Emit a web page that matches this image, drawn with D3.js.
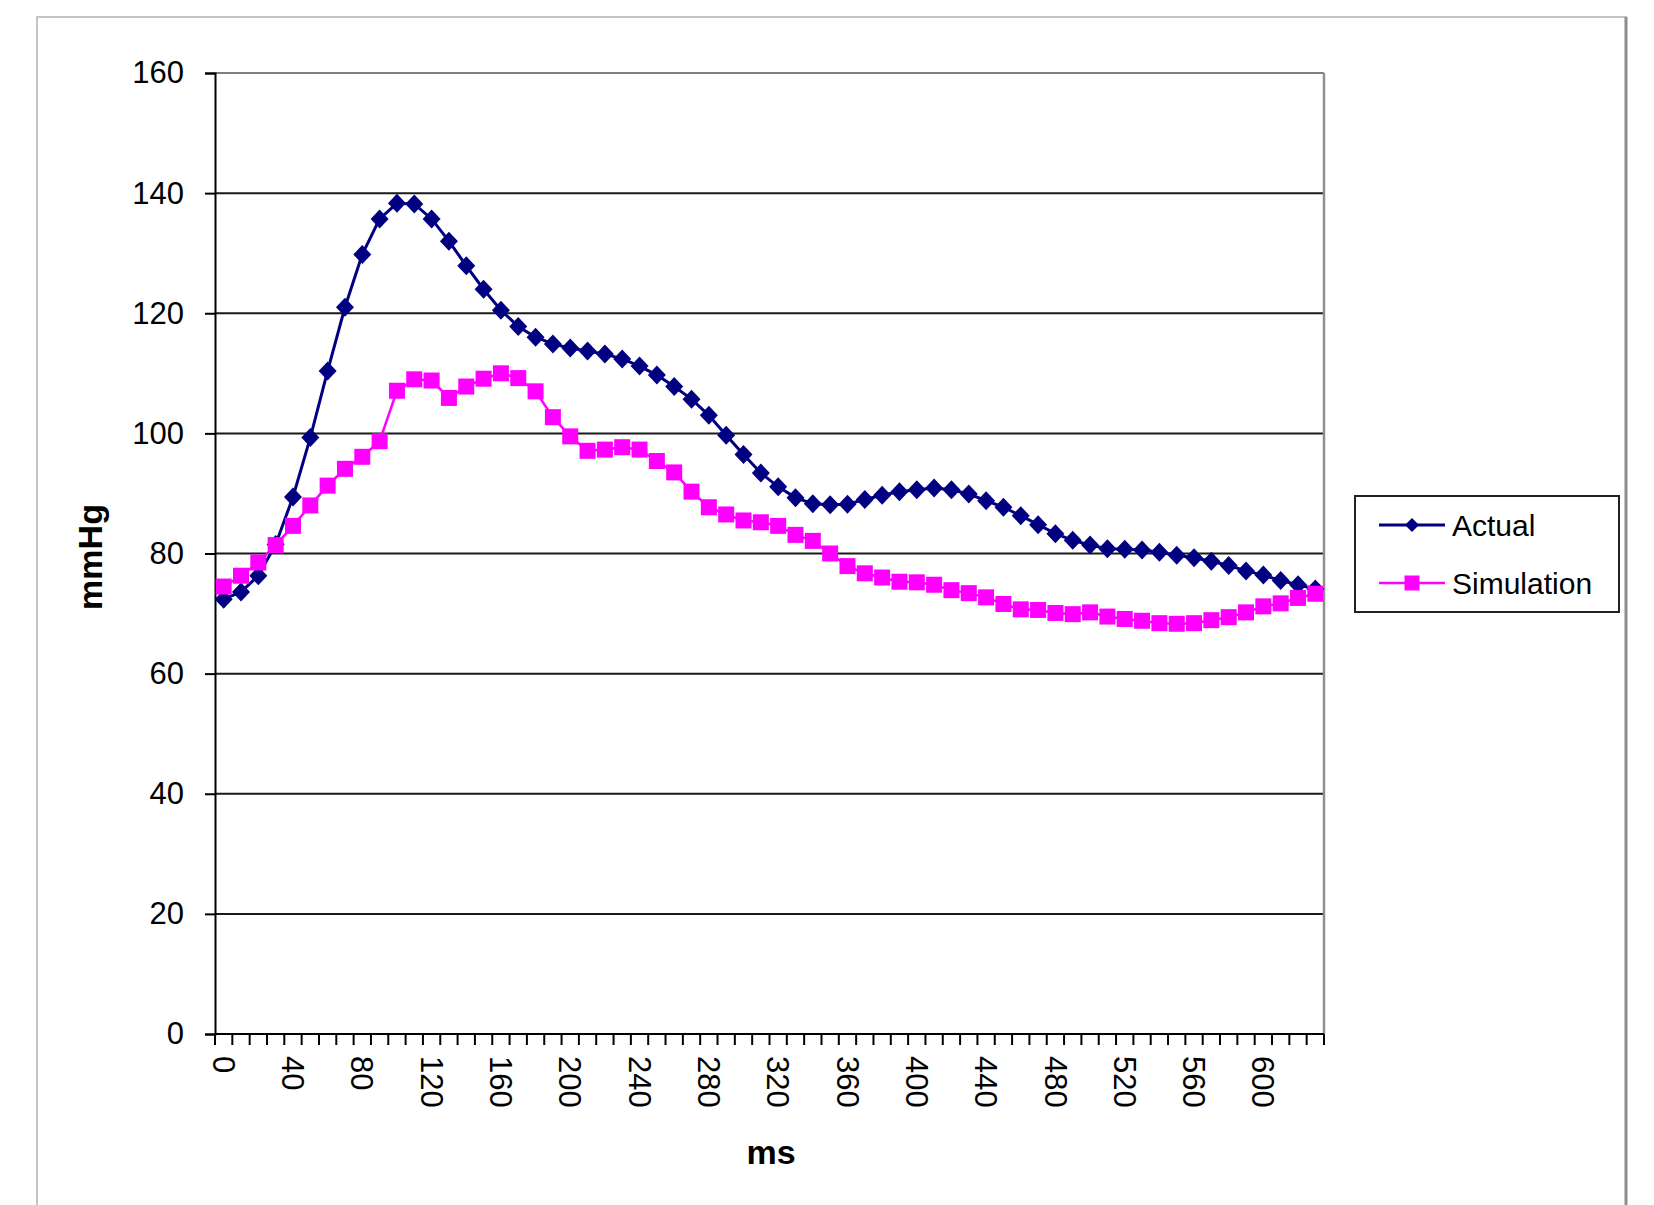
<!DOCTYPE html>
<html>
<head>
<meta charset="utf-8">
<script src="https://cdn.jsdelivr.net/npm/d3@7"></script>
<style>
  html, body { margin: 0; padding: 0; background: #fff; }
  svg { display: block; }
  text { font-family: "Liberation Sans", Arial, sans-serif; fill: #000; }
</style>
</head>
<body>
<svg id="chart" width="1654" height="1205"></svg>
<script>
// ---- data ----
const categories = [0,10,20,30,40,50,60,70,80,90,100,110,120,130,140,150,160,170,180,190,
  200,210,220,230,240,250,260,270,280,290,300,310,320,330,340,350,360,370,380,390,
  400,410,420,430,440,450,460,470,480,490,500,510,520,530,540,550,560,570,580,590,
  600,610,620,630];
const actual = [72.4,73.6,76.3,81.5,89.4,99.3,110.4,121.0,129.8,135.7,
  138.3,138.2,135.7,132.0,127.9,124.0,120.5,117.8,116.0,114.9,
  114.2,113.7,113.2,112.4,111.2,109.7,107.8,105.7,103.0,99.7,
  96.5,93.4,91.1,89.3,88.3,88.1,88.2,89.0,89.7,90.3,
  90.6,90.9,90.6,89.9,88.8,87.7,86.3,84.8,83.3,82.2,
  81.4,80.8,80.7,80.6,80.2,79.7,79.3,78.7,78.0,77.1,
  76.4,75.5,74.8,74.1];
const simulation = [74.5,76.3,78.5,81.4,84.6,88.0,91.3,94.1,96.1,98.7,
  107.1,109.0,108.8,105.9,107.8,109.1,110.0,109.2,107.0,102.7,
  99.5,97.1,97.3,97.7,97.3,95.4,93.5,90.3,87.7,86.5,
  85.5,85.2,84.6,83.1,82.1,80.0,77.9,76.7,76.0,75.3,
  75.2,74.8,73.9,73.4,72.7,71.6,70.7,70.6,70.1,69.9,
  70.2,69.5,69.1,68.8,68.4,68.3,68.4,68.9,69.4,70.2,
  71.2,71.7,72.6,73.3];
const yTicks = [0,20,40,60,80,100,120,140,160];
const xTickLabels = [0,40,80,120,160,200,240,280,320,360,400,440,480,520,560,600];
const seriesNames = ["Actual","Simulation"];
const seriesColors = ["#000080","#FF00FF"];

// ---- layout ----
const plot = {left: 215, right: 1324, top: 73, bottom: 1034};
const svg = d3.select("#chart");

const x = d3.scaleBand().domain(categories).range([plot.left, plot.right]).padding(0);
const xc = c => x(c) + x.bandwidth() / 2;
const y = d3.scaleLinear().domain([0, 160]).range([plot.bottom, plot.top]);

// outer chart frame
svg.append("rect").attr("x", 37).attr("y", 17).attr("width", 1589).attr("height", 1240)
  .attr("fill", "#fff").attr("stroke", "#c4c4c4").attr("stroke-width", 2);
svg.append("line").attr("x1", 1626).attr("x2", 1626).attr("y1", 17).attr("y2", 1205)
  .attr("stroke", "#8c8c8c").attr("stroke-width", 3);

// gridlines
svg.append("g").selectAll("line").data(yTicks.filter(t => t > 0 && t < 160)).join("line")
  .attr("x1", plot.left).attr("x2", plot.right)
  .attr("y1", d => y(d)).attr("y2", d => y(d))
  .attr("stroke", "#1a1a1a").attr("stroke-width", 2);

// plot border top/right (gray)
svg.append("line").attr("x1", plot.left).attr("x2", plot.right).attr("y1", y(160)).attr("y2", y(160))
  .attr("stroke", "#7f7f7f").attr("stroke-width", 2);
svg.append("line").attr("x1", plot.right).attr("x2", plot.right).attr("y1", plot.top).attr("y2", plot.bottom)
  .attr("stroke", "#8f8f8f").attr("stroke-width", 2.5);

// y axis
const yAxis = svg.append("g").attr("transform", `translate(${plot.left},0)`)
  .call(d3.axisLeft(y).tickValues(yTicks).tickSize(10).tickPadding(21).tickFormat(d3.format("d")));
yAxis.select(".domain").attr("stroke", "#000").attr("stroke-width", 2);
yAxis.selectAll(".tick line").attr("stroke", "#000").attr("stroke-width", 2);
yAxis.selectAll(".tick text").attr("font-size", 31).attr("font-family", "Liberation Sans, Arial, sans-serif").attr("fill", "#000");

// x axis line
svg.append("line").attr("x1", plot.left).attr("x2", plot.right).attr("y1", plot.bottom).attr("y2", plot.bottom)
  .attr("stroke", "#000").attr("stroke-width", 2);
// x tick marks at category boundaries
const boundaries = categories.map(c => x(c)).concat([x(categories[categories.length - 1]) + x.bandwidth()]);
svg.append("g").selectAll("line").data(boundaries).join("line")
  .attr("x1", d => d).attr("x2", d => d)
  .attr("y1", plot.bottom).attr("y2", plot.bottom + 11)
  .attr("stroke", "#000").attr("stroke-width", 2);
// x tick labels (rotated)
svg.append("g").selectAll("text").data(xTickLabels).join("text")
  .attr("transform", d => `translate(${xc(d)},${plot.bottom + 22}) rotate(90)`)
  .attr("dy", "0.35em")
  .attr("text-anchor", "start")
  .attr("font-size", 31)
  .text(d => d);

// axis titles
svg.append("text").attr("x", 771).attr("y", 1164).attr("text-anchor", "middle")
  .attr("font-size", 34).attr("font-weight", "bold").text("ms");
svg.append("text").attr("transform", "translate(102,557) rotate(-90)").attr("text-anchor", "middle")
  .attr("font-size", 34).attr("font-weight", "bold").text("mmHg");

// series
const diamondPath = "M0,-9.5L9,0L0,9.5L-9,0Z";
const squarePath = "M-8,-8H8V8H-8Z";
const lineGen = d3.line().x((d, i) => xc(categories[i])).y(d => y(d));

const gA = svg.append("g");
gA.append("path").datum(actual).attr("d", lineGen).attr("fill", "none")
  .attr("stroke", seriesColors[0]).attr("stroke-width", 3);
gA.selectAll("path.m").data(actual).join("path").attr("class", "m")
  .attr("transform", (d, i) => `translate(${xc(categories[i])},${y(d)})`)
  .attr("d", diamondPath).attr("fill", seriesColors[0]);

const gS = svg.append("g");
gS.append("path").datum(simulation).attr("d", lineGen).attr("fill", "none")
  .attr("stroke", seriesColors[1]).attr("stroke-width", 2.5);
gS.selectAll("path.m").data(simulation).join("path").attr("class", "m")
  .attr("transform", (d, i) => `translate(${xc(categories[i])},${y(d)})`)
  .attr("d", squarePath).attr("fill", seriesColors[1]);

// legend
const lg = svg.append("g");
lg.append("rect").attr("x", 1355).attr("y", 496).attr("width", 264).attr("height", 116)
  .attr("fill", "#fff").attr("stroke", "#222").attr("stroke-width", 2);
const legendY = [525, 583];
seriesNames.forEach((name, i) => {
  const yy = legendY[i];
  lg.append("line").attr("x1", 1379).attr("x2", 1445).attr("y1", yy).attr("y2", yy)
    .attr("stroke", seriesColors[i]).attr("stroke-width", i === 0 ? 3 : 2.5);
  lg.append("path").attr("transform", `translate(1412,${yy})`)
    .attr("d", i === 0 ? "M0,-7L7,0L0,7L-7,0Z" : "M-7.5,-7.5H7.5V7.5H-7.5Z")
    .attr("fill", seriesColors[i]);
  lg.append("text").attr("x", 1452).attr("y", yy).attr("dy", "0.35em")
    .attr("font-size", 30).text(name);
});
</script>
</body>
</html>
